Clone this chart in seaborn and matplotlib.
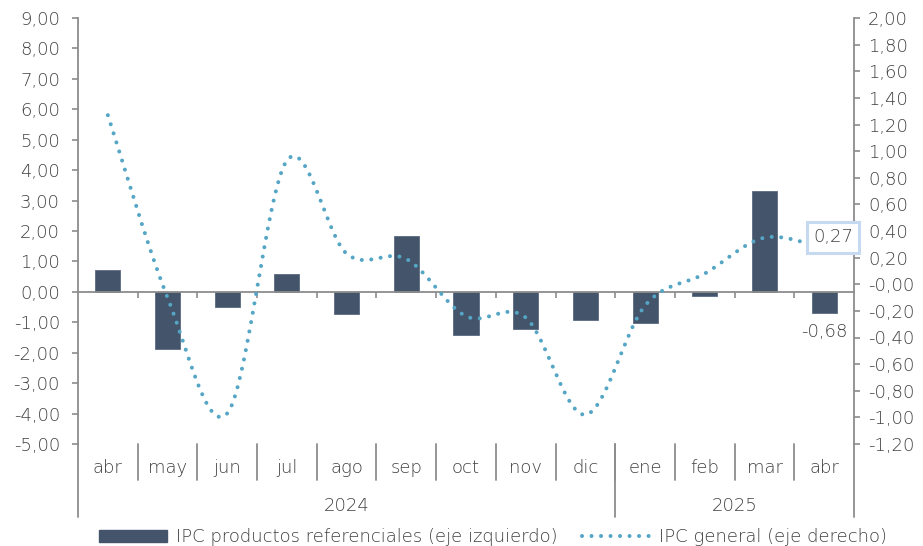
import matplotlib
matplotlib.use("Agg")
import matplotlib.pyplot as plt
import matplotlib.transforms as mtransforms
from matplotlib.lines import Line2D
from matplotlib.patches import Patch
from matplotlib.ticker import FuncFormatter
import numpy as np
import pandas as pd
import seaborn as sns


meses = ["abr", "may", "jun", "jul", "ago", "sep", "oct", "nov", "dic", "ene", "feb", "mar", "abr"]
anios = ["2024", "2025"]
meses_por_anio = [9, 4]
ipc_referenciales = [0.72, -1.88, -0.49, 0.60, -0.73, 1.82, -1.41, -1.22, -0.92, -1.02, -0.12, 3.32, -0.68]
ipc_general = [1.27, -0.10, -0.97, 0.93, 0.23, 0.19, -0.24, -0.25, -0.98, -0.16, 0.08, 0.35, 0.27]

COLOR_BARRA = "#44546A"
COLOR_LINEA = "#55A5C5"
COLOR_EJE = "#8C8C8C"
COLOR_TEXTO = "#404040"
FS = 13


def suavizar(x, y, pasos=40):
    # curva suavizada tipo Excel (Catmull-Rom) solo para dibujar
    x = np.asarray(x, dtype=float)
    y = np.asarray(y, dtype=float)
    px = np.concatenate([[x[0]], x, [x[-1]]])
    py = np.concatenate([[y[0]], y, [y[-1]]])
    xs, ys = [], []
    t = np.linspace(0, 1, pasos, endpoint=False)
    for i in range(1, len(px) - 2):
        p0 = np.array([px[i], py[i]])
        p1 = np.array([px[i + 1], py[i + 1]])
        c1 = p0 + (p1 - np.array([px[i - 1], py[i - 1]])) / 6
        c2 = p1 - (np.array([px[i + 2], py[i + 2]]) - p0) / 6
        b = ((1 - t) ** 3)[:, None] * p0 + (3 * (1 - t) ** 2 * t)[:, None] * c1 \
            + (3 * (1 - t) * t ** 2)[:, None] * c2 + (t ** 3)[:, None] * p1
        xs.extend(b[:, 0])
        ys.extend(b[:, 1])
    xs.append(x[-1])
    ys.append(y[-1])
    return np.array(xs), np.array(ys)


sns.set_theme(style="white")
plt.rcParams["font.family"] = ["DejaVu Sans"]
plt.rcParams["font.weight"] = "light"
plt.rcParams["text.color"] = COLOR_TEXTO

df = pd.DataFrame({
    "pos": np.arange(len(meses)),
    "etiqueta": [f"{m}-{i}" for i, m in enumerate(meses)],
    "referenciales": ipc_referenciales,
    "general": ipc_general,
})

fig = plt.figure(figsize=(9.23, 5.46), dpi=100)
ax = fig.add_axes([78 / 923, 1 - 444 / 546, (854 - 78) / 923, (444 - 18) / 546])
ax2 = ax.twinx()

sns.barplot(data=df, x="etiqueta", y="referenciales", order=df["etiqueta"], color=COLOR_BARRA,
            width=0.42, saturation=1, ax=ax, edgecolor="#5A6A80", linewidth=0.6, zorder=2)

xs, ys = suavizar(df["pos"], df["general"])
curva = pd.DataFrame({"x": xs, "y": ys})
sns.lineplot(data=curva, x="x", y="y", sort=False, ax=ax2, color=COLOR_LINEA,
             linewidth=2.9, linestyle=(0, (0.01, 2.35)), dash_capstyle="round", zorder=3)

ax.set_xlim(-0.5, len(meses) - 0.5)
ax2.set_xlim(-0.5, len(meses) - 0.5)
ax.set_ylim(-5, 9)
ax2.set_ylim(-1.2, 2.0)

fmt = FuncFormatter(lambda v, p: f"{v:.2f}".replace(".", ","))
ax.set_yticks(np.arange(-5, 9.01, 1))
ax2.set_yticks(np.arange(-1.2, 2.001, 0.2))
ax.yaxis.set_major_formatter(fmt)
ax2.yaxis.set_major_formatter(fmt)

ax.set_xticks(np.arange(0.5, len(meses) - 1, 1))
ax.set_xticklabels([])
ax.set_xlabel("")
ax.set_ylabel("")
ax2.set_xlabel("")
ax2.set_ylabel("")

for a in (ax, ax2):
    for s in a.spines.values():
        s.set_color(COLOR_EJE)
        s.set_linewidth(1.3)
    a.grid(False)
ax.spines["top"].set_visible(False)
ax.spines["right"].set_visible(False)
ax.spines["bottom"].set_position(("data", 0))
ax2.spines["top"].set_visible(False)
ax2.spines["bottom"].set_visible(False)
ax2.spines["left"].set_visible(False)

ax.tick_params(axis="y", which="both", left=True, length=4, width=1.2, color=COLOR_EJE,
               labelsize=FS, labelcolor=COLOR_TEXTO, pad=9)
ax.tick_params(axis="x", bottom=True, length=4, width=1.2, color=COLOR_EJE, direction="out")
ax2.tick_params(axis="y", right=True, length=4, width=1.2, color=COLOR_EJE,
                labelsize=FS, labelcolor=COLOR_TEXTO, pad=6)

# eje de categorias en dos niveles
trans = mtransforms.blended_transform_factory(ax.transData, ax.transAxes)
sep_corto = -36 / 426
sep_largo = -73 / 426
for i, m in enumerate(meses):
    ax.text(i, -24 / 426, m, transform=trans, ha="center", va="center", fontsize=FS, color=COLOR_TEXTO)
for b in np.arange(0.5, len(meses) - 1, 1):
    ax.plot([b, b], [0, sep_corto], transform=trans, color=COLOR_EJE, lw=1.3, clip_on=False)
inicio = -0.5
for anio, n in zip(anios, meses_por_anio):
    fin = inicio + n
    ax.text((inicio + fin) / 2, -62 / 426, anio, transform=trans, ha="center", va="center",
            fontsize=FS, color=COLOR_TEXTO)
    ax.plot([inicio, inicio], [0, sep_largo], transform=trans, color=COLOR_EJE, lw=1.3, clip_on=False)
    inicio = fin
ax.plot([inicio, inicio], [0, sep_largo], transform=trans, color=COLOR_EJE, lw=1.3, clip_on=False)

# etiquetas de datos
ultimo = len(meses) - 1
ax2.annotate(f"{ipc_general[-1]:.2f}".replace(".", ","), xy=(ultimo, ipc_general[-1]),
             xytext=(9, 11), textcoords="offset pixels", ha="center", va="center", fontsize=FS,
             color=COLOR_TEXTO, zorder=5,
             bbox=dict(boxstyle="square,pad=0.35", fc="white", ec="#C5D9F1", lw=2.2))
ax.annotate(f"{ipc_referenciales[-1]:.2f}".replace(".", ","), xy=(ultimo, ipc_referenciales[-1]),
            xytext=(0, -19), textcoords="offset pixels", ha="center", va="center", fontsize=FS,
            color=COLOR_TEXTO)

handles = [
    Patch(facecolor=COLOR_BARRA, edgecolor=COLOR_BARRA, label="IPC productos referenciales (eje izquierdo)"),
    Line2D([0], [0], color=COLOR_LINEA, linewidth=2.9, linestyle=(0, (0.01, 2.35)),
           dash_capstyle="round", label="IPC general (eje derecho)"),
]
fig.legend(handles=handles, loc="center", bbox_to_anchor=(0.534, 1 - 537 / 546), ncol=2,
           frameon=False, fontsize=FS, handlelength=3.8, handleheight=0.65,
           handletextpad=0.45, columnspacing=1.4, labelcolor=COLOR_TEXTO)

fig.savefig("out.png", dpi=100)
